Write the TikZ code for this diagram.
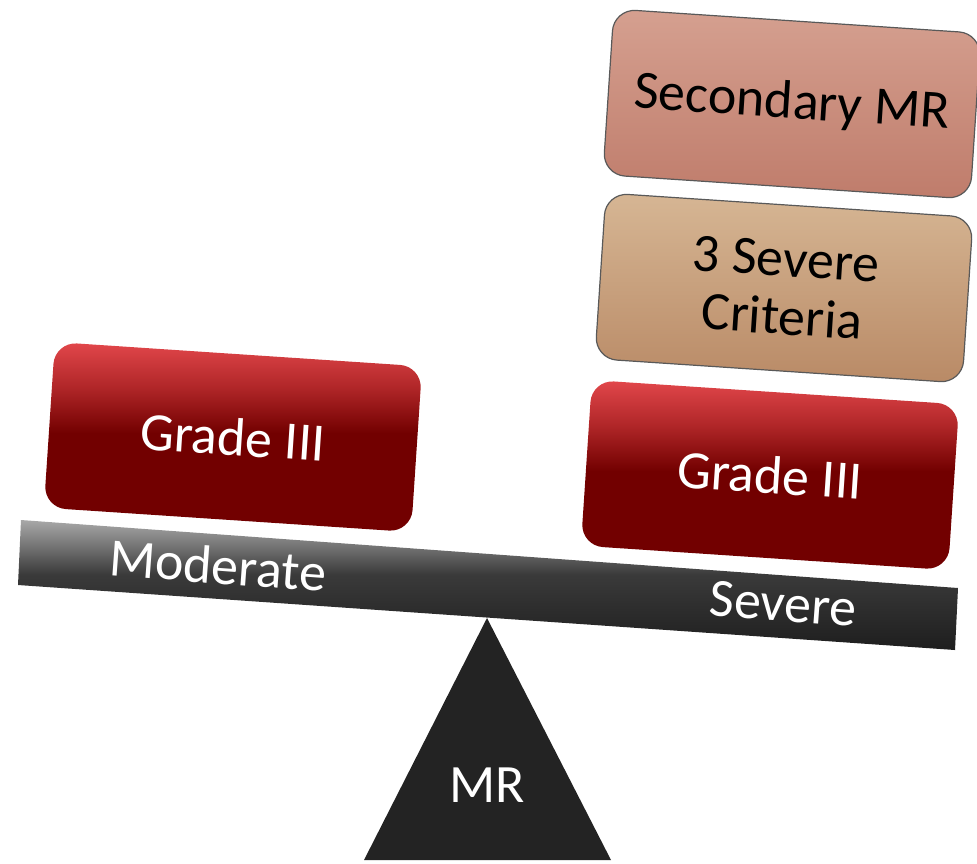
\documentclass[tikz,border=0pt]{standalone}
\usepackage{fontspec}
\setmainfont{Carlito}
\usepackage{tikz}
\usetikzlibrary{positioning}
\usepackage{xcolor}
\definecolor{RedTop}{HTML}{E2474B}
\definecolor{RedMid}{HTML}{B02628}
\definecolor{RedLow}{HTML}{720000}
\definecolor{TanTop}{HTML}{D6B694}
\definecolor{TanLow}{HTML}{B98A66}
\definecolor{PinkTop}{HTML}{D5A090}
\definecolor{PinkLow}{HTML}{BF7C6B}
\definecolor{BeamTop}{HTML}{A8A8A8}
\definecolor{BeamMid}{HTML}{3A3A3A}
\definecolor{BeamLow}{HTML}{1E1E1E}
\definecolor{Pivot}{HTML}{232323}
\pgfdeclareverticalshading{redfade}{100bp}{color(0bp)=(RedLow); color(51bp)=(RedLow);
  color(63bp)=(RedMid); color(75bp)=(RedTop); color(100bp)=(RedTop)}
\pgfdeclareverticalshading{beamfade}{100bp}{color(0bp)=(BeamLow); color(25bp)=(BeamLow);
  color(54bp)=(BeamMid); color(75bp)=(BeamTop); color(100bp)=(BeamTop)}

\begin{document}
\begin{tikzpicture}[
    x=0.5pt, y=-0.5pt,
    every node/.style={font=\fontsize{27}{29}\selectfont},
    block/.style={rounded corners=11pt, align=center, rotate=-3.8,
                  minimum width=184pt, minimum height=83pt, inner sep=0pt},
    grade/.style={block, text=white, shading=redfade},
    crit/.style={block, draw=black!65, line width=0.6pt, top color=TanTop,
                 bottom color=TanLow},
    second/.style={block, draw=black!65, line width=0.6pt, top color=PinkTop,
                   bottom color=PinkLow},
    beamtext/.style={text=white, rotate=-4.2, inner sep=0pt},
  ]
    \useasboundingbox (0,0) rectangle (977,863);

    \shade[shading=beamfade]
      (21,520) -- (958,588) -- (955,650) -- (18,585) -- cycle;
    \fill[Pivot] (487,618) -- (611,860) -- (364,860) -- cycle;

    \node[grade]  (leftgrade)  at (233,437) {Grade III};
    \node[grade]  (rightgrade) at (770,475) {Grade III};
    \node[crit]   (criteria)   at (784,288) {3 Severe\\Criteria};
    \node[second] (secondary)  at (792,104) {Secondary MR};

    \node[beamtext] (moderate) at (218,565) {Moderate};
    \node[beamtext] (severe)   at (783,604) {Severe};
    \node[text=white] (mr)     at (487,785) {MR};
  \end{tikzpicture}
\end{document}
